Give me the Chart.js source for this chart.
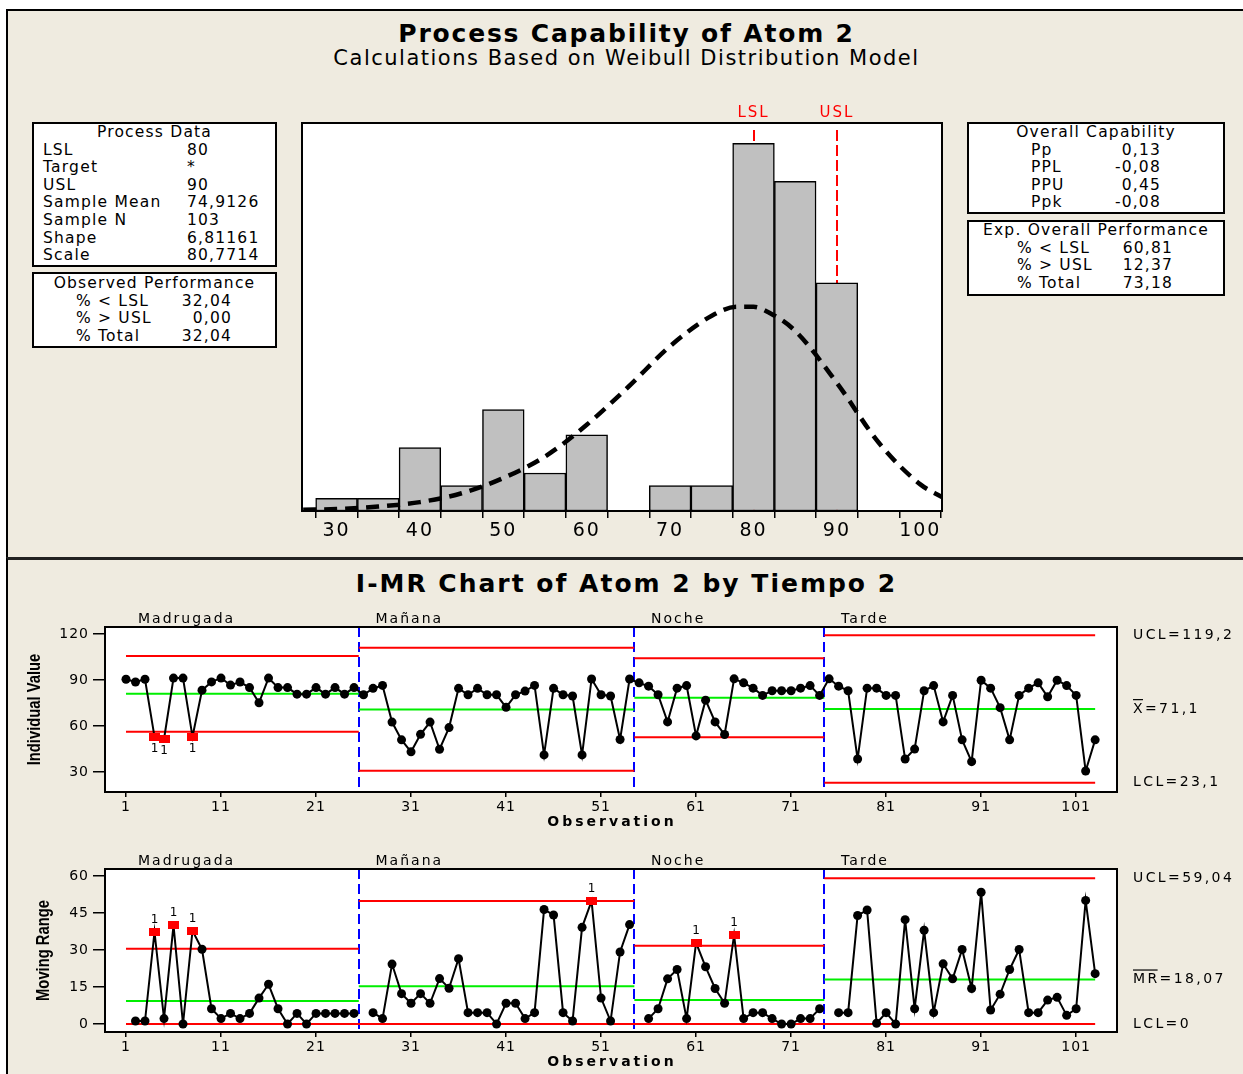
<!DOCTYPE html>
<html>
<head>
<meta charset="utf-8">
<script src="https://cdn.jsdelivr.net/npm/chart.js@4.4.1/dist/chart.umd.min.js"></script>
<style>
  body { margin: 0; width: 1243px; height: 1074px; position: relative; overflow: hidden; background: #fff;
         font-family: "DejaVu Sans", Verdana, sans-serif; color: #000; }
  .panel { position: absolute; left: 6px; width: 1237px; background: #EFEBE0; border-left: 2px solid #000; box-sizing: border-box; }
  .ttl { position: absolute; left: 5px; width: 1243px; text-align: center; white-space: nowrap; }
  .box { position: absolute; background: #fff; border: 2px solid #000; box-sizing: border-box;
         font-size: 15.5px; letter-spacing: 1.2px; line-height: 17.6px; }
  .row { position: relative; height: 17.6px; white-space: nowrap; }
  .row span { position: absolute; top: 0; }
  canvas { position: absolute; }
</style>
</head>
<body>
<div class="panel" style="top:9px;height:549px;border-top:2px solid #000"></div>
<div class="panel" style="top:557px;height:517px;border-top:3px solid #222"></div>

<div class="ttl" style="top:20px;font-size:25px;font-weight:bold;letter-spacing:1.8px;line-height:28px">Process Capability of Atom 2</div>
<div class="ttl" style="top:46px;font-size:21px;letter-spacing:1.5px;line-height:24px">Calculations Based on Weibull Distribution Model</div>
<div class="ttl" style="top:570px;font-size:25px;font-weight:bold;letter-spacing:2px;line-height:28px">I-MR Chart of Atom 2 by Tiempo 2</div>

<div class="box" style="left:32px;top:122px;width:245px;height:145px">
  <div class="row" style="text-align:center">Process Data</div>
  <div class="row"><span style="left:9px">LSL</span><span style="left:153px">80</span></div>
  <div class="row"><span style="left:9px">Target</span><span style="left:153px">*</span></div>
  <div class="row"><span style="left:9px">USL</span><span style="left:153px">90</span></div>
  <div class="row"><span style="left:9px">Sample Mean</span><span style="left:153px">74,9126</span></div>
  <div class="row"><span style="left:9px">Sample N</span><span style="left:153px">103</span></div>
  <div class="row"><span style="left:9px">Shape</span><span style="left:153px">6,81161</span></div>
  <div class="row"><span style="left:9px">Scale</span><span style="left:153px">80,7714</span></div>
</div>
<div class="box" style="left:32px;top:272px;width:245px;height:76px;padding-top:1px">
  <div class="row" style="text-align:center">Observed Performance</div>
  <div class="row"><span style="left:42px">% &lt; LSL</span><span style="right:43px">32,04</span></div>
  <div class="row"><span style="left:42px">% &gt; USL</span><span style="right:43px">0,00</span></div>
  <div class="row"><span style="left:42px">% Total</span><span style="right:43px">32,04</span></div>
</div>
<div class="box" style="left:967px;top:122px;width:258px;height:92px">
  <div class="row" style="text-align:center">Overall Capability</div>
  <div class="row"><span style="left:62px">Pp</span><span style="right:62px">0,13</span></div>
  <div class="row"><span style="left:62px">PPL</span><span style="right:62px">-0,08</span></div>
  <div class="row"><span style="left:62px">PPU</span><span style="right:62px">0,45</span></div>
  <div class="row"><span style="left:62px">Ppk</span><span style="right:62px">-0,08</span></div>
</div>
<div class="box" style="left:967px;top:220px;width:258px;height:76px">
  <div class="row" style="text-align:center">Exp. Overall Performance</div>
  <div class="row"><span style="left:48px">% &lt; LSL</span><span style="right:50px">60,81</span></div>
  <div class="row"><span style="left:48px">% &gt; USL</span><span style="right:50px">12,37</span></div>
  <div class="row"><span style="left:48px">% Total</span><span style="right:50px">73,18</span></div>
</div>

<canvas id="hist" width="670" height="450" style="left:290px;top:100px"></canvas>
<canvas id="ichart" width="1233" height="240" style="left:10px;top:598px"></canvas>
<canvas id="mrchart" width="1233" height="234" style="left:10px;top:840px"></canvas>

<script>
// Process capability histogram (Weibull fit) + I-MR chart by Tiempo 2

const binCenters = [30, 35, 40, 45, 50, 55, 60, 65, 70, 75, 80, 85, 90, 95];
const binCounts = [1, 1, 5, 2, 8, 3, 6, 0, 2, 2, 29, 26, 18, 0];
const fitX = [26, 30, 35, 40, 45, 50, 55, 60, 65, 70, 75, 78, 80, 82, 85, 90, 95, 100, 102.6];
const fitY = [0.1, 0.15, 0.35, 0.7, 1.4, 2.6, 4.3, 6.8, 9.8, 13.0, 15.4, 16.1, 16.1, 15.6, 14.2, 10.1, 5.4, 2.1, 1.1];
const histTicks = [30, 40, 50, 60, 70, 80, 90, 100];
const LSL = 80, USL = 90;

const groupNames = ['Madrugada', 'Mañana', 'Noche', 'Tarde'];
const groupFirst = [1, 26, 55, 75];
const groupLast = [25, 54, 74, 103];

const indiv = [
    90.5, 88.7, 90.5, 53, 51.4, 91.3, 91.3, 53, 83.4, 88.8,
    91.3, 86.7, 88.7, 85.1, 75.2, 91.3, 85.1, 85.1, 80.8, 80.8,
    85.1, 80.8, 85.1, 80.8, 85.1, 80.4, 84.6, 86.5, 62.6, 51,
    43.2, 54.6, 62.6, 44.9, 59, 84.6, 80.4, 84.6, 80.4, 80.4,
    72.2, 80.4, 82.8, 86.5, 41.2, 84.6, 80.4, 79.6, 41.2, 90.7,
    80.4, 79.6, 51.2, 90.7, 88.2, 86, 80.4, 62.7, 84.7, 86.4,
    53.6, 76.9, 62.7, 54.5, 90.8, 88.2, 84.7, 80, 83, 83,
    83, 84.7, 86.4, 80, 90.8, 86, 83, 38.5, 84.7, 84.7,
    80, 80, 38.5, 45, 83, 86.4, 62.7, 80, 51, 36.8,
    89.9, 84.7, 72, 51, 80, 84.7, 88.2, 79.1, 89.9, 86.4,
    80, 30.7, 51
];
const movRange = [
    null, 1.2, 1.2, 37.3, 2.2, 40, 0, 37.8, 30.3, 6.2,
    2.2, 4.3, 2.2, 4.3, 10.5, 16.1, 6.2, 0, 4.3, 0,
    4.3, 4.3, 4.3, 4.3, 4.3, null, 4.6, 2.2, 24.3, 12.3,
    8.4, 12.3, 8.4, 18.4, 14.5, 26.5, 4.6, 4.6, 4.6, 0,
    8.4, 8.4, 2.2, 4.6, 46.4, 44.2, 4.6, 1.2, 39.2, 49.9,
    10.5, 1.2, 29.2, 40.3, null, 2.2, 6.2, 18.3, 22.1, 2.2,
    32.9, 23.2, 14.4, 8.4, 36.1, 2.2, 4.6, 4.6, 2.2, 0,
    0, 2.2, 2.2, 6.2, null, 4.6, 4.6, 44, 46.2, 0.3,
    4.6, 0, 42.3, 6.2, 38, 4.6, 24.4, 18.3, 30.2, 14.4,
    53.4, 5.7, 12.1, 22.1, 30.2, 4.6, 4.6, 9.7, 10.8, 3.5,
    6.2, 50.1, 20.4
];

const iUCL = [105.7, 111.1, 104.3, 119.2];
const iCL = [81.0, 70.8, 78.5, 71.1];
const iLCL = [56.3, 30.8, 52.7, 23.1];
const mrUCL = [30.5, 49.9, 31.7, 59.04];
const mrCL = [9.3, 15.3, 9.7, 18.07];
const mrLCL = [0, 0, 0, 0];

const iFlags = [4, 5, 8];
const mrFlags = [4, 6, 8, 50, 61, 65];

const obsTicks = [1, 11, 21, 31, 41, 51, 61, 71, 81, 91, 101];
const iTicks = [30, 60, 90, 120];
const mrTicks = [0, 15, 30, 45, 60];

const FONT = '"DejaVu Sans", Verdana, sans-serif';

function strokeFrame(chart) {
    const { ctx, chartArea: a } = chart;
    ctx.save();
    ctx.strokeStyle = '#000';
    ctx.lineWidth = 2;
    ctx.strokeRect(a.left, a.top, a.width, a.height);
    ctx.restore();
}

// ---------------- histogram ----------------
const histDeco = {
    id: 'histDeco',
    beforeDraw(chart) {
        const { ctx, chartArea: a } = chart;
        ctx.letterSpacing = '2px';
        ctx.fillStyle = '#fff';
        ctx.fillRect(a.left, a.top, a.width, a.height);
    },
    beforeDatasetsDraw(chart) {
        const { ctx, chartArea: a, scales: { x } } = chart;
        ctx.save();
        ctx.strokeStyle = '#FF0000';
        ctx.lineWidth = 2;
        ctx.setLineDash([11, 4]);
        [LSL, USL].forEach(v => {
            const px = Math.round(x.getPixelForValue(v));
            ctx.beginPath();
            ctx.moveTo(px, a.top + 7);
            ctx.lineTo(px, a.bottom);
            ctx.stroke();
        });
        ctx.restore();
    },
    afterDraw(chart) {
        const { ctx, chartArea: a, scales: { x } } = chart;
        strokeFrame(chart);
        ctx.save();
        ctx.fillStyle = '#FF0000';
        ctx.font = '15px ' + FONT;
        ctx.letterSpacing = '2px';
        ctx.textAlign = 'center';
        ctx.textBaseline = 'middle';
        ctx.fillText('LSL', x.getPixelForValue(LSL), a.top - 10);
        ctx.fillText('USL', x.getPixelForValue(USL), a.top - 10);
        ctx.restore();
    }
};

new Chart(document.getElementById('hist'), {
    type: 'bar',
    data: {
        datasets: [
            {
                type: 'line',
                data: fitX.map((x, i) => ({ x: x, y: fitY[i] })),
                borderColor: '#000',
                borderWidth: 4.5,
                borderDash: [13, 8],
                pointRadius: 0,
                cubicInterpolationMode: 'monotone',
                order: 0
            },
            {
                type: 'bar',
                data: binCenters.map((x, i) => ({ x: x, y: binCounts[i] || null })),
                backgroundColor: '#C0C0C0',
                borderColor: '#000',
                borderWidth: 1.5,
                borderSkipped: false,
                barPercentage: 1,
                categoryPercentage: 1,
                order: 1
            }
        ]
    },
    options: {
        responsive: false,
        animation: false,
        events: [],
        layout: { padding: { left: 12, right: 18, top: 23, bottom: 0 } },
        plugins: { legend: { display: false }, tooltip: { enabled: false } },
        scales: {
            x: {
                type: 'linear',
                min: 25.86,
                max: 102.6,
                offset: false,
                afterFit: s => { s.height = 39; },
                grid: { drawOnChartArea: false, color: '#000', tickLength: 7, lineWidth: 1.5 },
                border: { display: false },
                ticks: {
                    stepSize: 5,
                    includeBounds: false,
                    autoSkip: false,
                    maxRotation: 0,
                    padding: 2,
                    color: '#000',
                    font: { family: FONT, size: 19 },
                    callback: v => histTicks.includes(v) ? String(v) : ''
                }
            },
            y: { display: false, min: 0, max: 30.6 }
        }
    },
    plugins: [histDeco]
});

// ---------------- I-MR ----------------
const redMark = document.createElement('canvas');
redMark.width = 11;
redMark.height = 8;
const rctx = redMark.getContext('2d');
rctx.fillStyle = '#FF0000';
rctx.fillRect(0, 0, 11, 8);

function segments(vals) {
    const pts = [];
    const n = groupFirst.length;
    groupFirst.forEach((f, g) => {
        const s = g === 0 ? f : f - 0.5;
        const e = g === n - 1 ? groupLast[g] : groupLast[g] + 0.5;
        pts.push({ x: s, y: vals[g] }, { x: e, y: vals[g] }, { x: e, y: null });
    });
    return pts;
}

function makeImr(id, cfg) {
    const limitLine = (vals, color) => ({
        data: segments(vals), borderColor: color, borderWidth: 2, pointRadius: 0, spanGaps: false
    });
    const deco = {
        id: 'imrDeco',
        beforeDraw(chart) {
            const { ctx, chartArea: a } = chart;
            ctx.letterSpacing = '1px';
            ctx.fillStyle = '#fff';
            ctx.fillRect(a.left, a.top, a.width, a.height);
        },
        beforeDatasetsDraw(chart) {
            const { ctx, chartArea: a, scales: { x } } = chart;
            ctx.save();
            ctx.strokeStyle = '#0000FF';
            ctx.lineWidth = 2;
            ctx.setLineDash([10, 5]);
            groupLast.slice(0, -1).forEach(l => {
                const px = Math.round(x.getPixelForValue(l + 0.5));
                ctx.beginPath();
                ctx.moveTo(px, a.top);
                ctx.lineTo(px, a.bottom);
                ctx.stroke();
            });
            ctx.restore();
        },
        afterDraw(chart) {
            const { ctx, chartArea: a, scales: { x, y } } = chart;
            strokeFrame(chart);
            ctx.save();
            ctx.fillStyle = '#000';
            ctx.textBaseline = 'middle';

            // stage names
            ctx.font = '14px ' + FONT;
            ctx.letterSpacing = '2px';
            ctx.textAlign = 'left';
            groupNames.forEach((name, g) => {
                ctx.fillText(name, x.getPixelForValue(groupFirst[g]) + 12, a.top - 8);
            });

            // test 1 markers
            ctx.font = '12px ' + FONT;
            ctx.letterSpacing = '0px';
            ctx.textAlign = 'center';
            cfg.flags.forEach(o => {
                ctx.fillText('1', x.getPixelForValue(o), y.getPixelForValue(cfg.vals[o - 1]) + cfg.flagDy);
            });

            // limit labels on the right
            ctx.font = '14px ' + FONT;
            ctx.letterSpacing = '2.4px';
            ctx.textAlign = 'left';
            const lx = a.right + 16;
            cfg.labels.forEach(l => {
                const ly = y.getPixelForValue(l.v);
                ctx.fillText(l.t, lx, ly);
                if (l.bar) {
                    const w = ctx.measureText(l.t.slice(0, l.bar)).width - 2;
                    ctx.fillRect(lx, ly - 10, w, 1.2);
                }
            });

            // axis titles
            ctx.font = 'bold 14px ' + FONT;
            ctx.letterSpacing = '3px';
            ctx.textAlign = 'center';
            ctx.fillText('Observation', (a.left + a.right) / 2 + 1, a.bottom + 30);

            ctx.translate(a.left - cfg.titleDx, (a.top + a.bottom) / 2);
            ctx.rotate(-Math.PI / 2);
            ctx.scale(0.82, 1);
            ctx.font = 'bold 18px "Liberation Sans", Arial, sans-serif';
            ctx.letterSpacing = '0px';
            ctx.fillText(cfg.yTitle, 0, 0);
            ctx.restore();
        }
    };

    return new Chart(document.getElementById(id), {
        type: 'line',
        data: {
            datasets: [
                {
                    data: cfg.vals.map((v, i) => ({ x: i + 1, y: v })),
                    borderColor: '#000',
                    borderWidth: 2,
                    pointRadius: 4.5,
                    pointBorderWidth: 0,
                    pointBackgroundColor: '#000',
                    pointStyle: c => (c.type === 'data' && cfg.flags.includes(c.dataIndex + 1)) ? redMark : 'circle',
                    spanGaps: false
                },
                limitLine(cfg.ucl, '#FF0000'),
                limitLine(cfg.cl, '#00EE00'),
                limitLine(cfg.lcl, '#FF0000')
            ]
        },
        options: {
            responsive: false,
            animation: false,
            events: [],
            layout: { padding: { left: 0, right: 126, top: 29, bottom: 0 } },
            plugins: { legend: { display: false }, tooltip: { enabled: false } },
            scales: {
                x: {
                    type: 'linear',
                    min: -1.21,
                    max: 105.3,
                    afterBuildTicks: s => { s.ticks = obsTicks.map(v => ({ value: v })); },
                    afterFit: s => { s.height = cfg.xh; },
                    grid: { drawOnChartArea: false, color: '#000', tickLength: 5, lineWidth: 1.5 },
                    border: { display: false },
                    ticks: { autoSkip: false, maxRotation: 0, padding: 2, color: '#000', font: { family: FONT, size: 14 } }
                },
                y: {
                    min: cfg.yMin,
                    max: cfg.yMax,
                    afterBuildTicks: s => { s.ticks = cfg.yTicks.map(v => ({ value: v })); },
                    afterFit: s => { s.width = 95; },
                    grid: { drawOnChartArea: false, color: '#000', tickLength: 12, lineWidth: 1.5 },
                    border: { display: false },
                    ticks: { padding: 4, color: '#000', font: { family: FONT, size: 14 } }
                }
            }
        },
        plugins: [deco]
    });
}

makeImr('ichart', {
    vals: indiv, flags: iFlags, flagDy: 12,
    ucl: iUCL, cl: iCL, lcl: iLCL,
    yMin: 17, yMax: 124.6, yTicks: iTicks, xh: 46,
    yTitle: 'Individual Value', titleDx: 70,
    labels: [{ t: 'UCL=119,2', v: 119.2 }, { t: 'X=71,1', v: 71.1, bar: 1 }, { t: 'LCL=23,1', v: 23.1 }]
});

makeImr('mrchart', {
    vals: movRange, flags: mrFlags, flagDy: -12,
    ucl: mrUCL, cl: mrCL, lcl: mrLCL,
    yMin: -3.24, yMax: 62.84, yTicks: mrTicks, xh: 42,
    yTitle: 'Moving Range', titleDx: 61,
    labels: [{ t: 'UCL=59,04', v: 59.04 }, { t: 'MR=18,07', v: 18.07, bar: 2 }, { t: 'LCL=0', v: 0 }]
});
</script>
</body>
</html>
